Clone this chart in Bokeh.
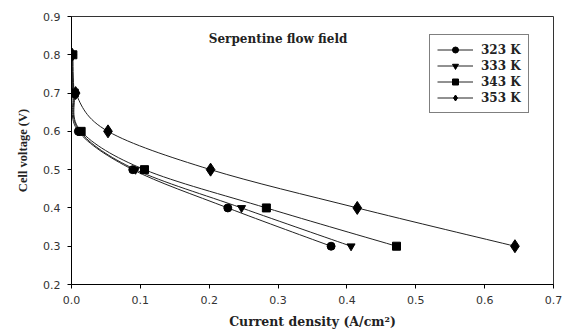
from bokeh.plotting import figure
from bokeh.models import Range1d, FixedTicker, NumeralTickFormatter, Legend, LegendItem, ColumnDataSource
from bokeh.core.properties import value
from bokeh.embed import file_html
from bokeh.resources import INLINE

labels = ["323 K", "333 K", "343 K", "353 K"]
markers = ["circle", "inverted_triangle", "square", "diamond"]
voltage = [0.8, 0.7, 0.6, 0.5, 0.4, 0.3]
cd_323 = [0.000, 0.002, 0.010, 0.089, 0.227, 0.377]
cd_333 = [0.001, 0.003, 0.012, 0.093, 0.247, 0.406]
cd_343 = [0.002, 0.004, 0.014, 0.106, 0.283, 0.472]
cd_353 = [0.001, 0.006, 0.053, 0.202, 0.415, 0.644]
series = [cd_323, cd_333, cd_343, cd_353]
x_ticks = [0.0, 0.1, 0.2, 0.3, 0.4, 0.5, 0.6, 0.7]
y_ticks = [0.2, 0.3, 0.4, 0.5, 0.6, 0.7, 0.8, 0.9]

p = figure(width=565, height=331, output_backend="svg", toolbar_location=None,
           x_range=Range1d(0, 0.7), y_range=Range1d(0.2, 0.9),
           min_border_left=71, min_border_right=12, min_border_top=16, min_border_bottom=47)
p.background_fill_color = "white"
p.border_fill_color = "white"
p.outline_line_color = "#333333"
p.outline_line_width = 1
p.grid.visible = False

serif_b = "DejaVu Serif"
for ax, ticks in ((p.xaxis, x_ticks), (p.yaxis, y_ticks)):
    ax.ticker = FixedTicker(ticks=ticks)
    ax.formatter = NumeralTickFormatter(format="0.0")
    ax.minor_tick_line_color = None
    ax.major_tick_out = 4
    ax.major_tick_in = 0
    ax.axis_line_color = "black"
    ax.major_tick_line_color = "black"
    ax.major_label_text_font = "DejaVu Sans"
    ax.major_label_text_font_size = "11px"
    ax.major_label_text_color = "#333333"
    ax.axis_label_text_font = serif_b
    ax.axis_label_text_font_style = "bold"
    ax.axis_label_text_color = "#222222"
p.xaxis.major_label_standoff = 7
p.yaxis.major_label_standoff = 7
p.xaxis.axis_label = "Current density (A/cm²)"
p.xaxis.axis_label_text_font_size = "12.5px"
p.xaxis.axis_label_standoff = 7
p.yaxis.axis_label = "Cell voltage (V)"
p.yaxis.axis_label_text_font = "Liberation Serif"
p.yaxis.axis_label_text_font_size = "12.5px"
p.yaxis.axis_label_standoff = 10


def smooth(xs, ys):
    # Catmull-Rom -> cubic Bezier segments (Excel-style smoothed line)
    n = len(xs)
    x0, y0, x1, y1, cx0, cy0, cx1, cy1 = [], [], [], [], [], [], [], []
    for i in range(n - 1):
        xp, yp = (xs[i - 1], ys[i - 1]) if i > 0 else (xs[i], ys[i])
        xn, yn = (xs[i + 2], ys[i + 2]) if i + 2 < n else (xs[i + 1], ys[i + 1])
        x0.append(xs[i]); y0.append(ys[i]); x1.append(xs[i + 1]); y1.append(ys[i + 1])
        cx0.append(xs[i] + (xs[i + 1] - xp) / 6.0)
        cy0.append(ys[i] + (ys[i + 1] - yp) / 6.0)
        cx1.append(xs[i + 1] - (xn - xs[i]) / 6.0)
        cy1.append(ys[i + 1] - (yn - ys[i]) / 6.0)
    return dict(x0=x0, y0=y0, x1=x1, y1=y1, cx0=cx0, cy0=cy0, cx1=cx1, cy1=cy1)


items = []
for lab, mk, xs in zip(labels, markers, series):
    src = ColumnDataSource(smooth(xs, voltage))
    p.bezier(x0="x0", y0="y0", x1="x1", y1="y1", cx0="cx0", cy0="cy0", cx1="cx1", cy1="cy1",
             source=src, line_color="#222222", line_width=1)
    sz = 13 if mk == "diamond" else 8
    sc = p.scatter(xs, voltage, marker=mk, size=sz, fill_color="black", line_color="black")
    proxy = p.line(x=[None, None], y=[None, None], line_color="#222222", line_width=1)
    items.append(LegendItem(label=lab, renderers=[proxy, sc]))

legend = Legend(items=items, location=(358, 171))
legend.border_line_color = "black"
legend.border_line_width = 1
legend.background_fill_color = "white"
legend.label_text_font = serif_b
legend.label_text_font_style = "bold"
legend.label_text_font_size = "12px"
legend.label_text_color = "#222222"
legend.glyph_width = 36
legend.glyph_height = 15
legend.label_height = 15
legend.spacing = 1
legend.padding = 7
legend.margin = 0
legend.label_standoff = 8
p.add_layout(legend, "center")

p.text(x=[0.3], y=[0.84], text=["Serpentine flow field"], text_align="center", text_baseline="middle",
       text_font=value(serif_b), text_font_style="bold", text_font_size="12px", text_color="#222222")

open("out.html", "w").write(file_html(p, INLINE))
